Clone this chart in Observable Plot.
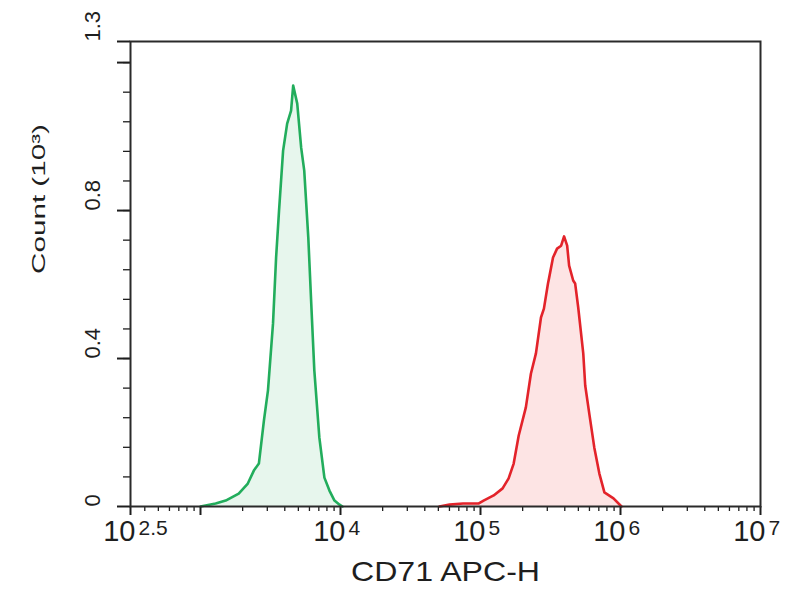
<!DOCTYPE html>
<html>
<head>
<meta charset="utf-8">
<script src="https://cdn.jsdelivr.net/npm/d3@7"></script>
<script src="https://cdn.jsdelivr.net/npm/@observablehq/plot@0.6"></script>
<style>
  html, body { margin: 0; padding: 0; background: #fff; }
  #chart { width: 804px; height: 600px; }
</style>
</head>
<body>
<div id="chart"></div>
<script>
// ---- Data ----
// log10 of CD71 APC-H intensity, and count (x10^3)
const greenLogX = [3.000, 3.108, 3.180, 3.273, 3.338, 3.381, 3.417, 3.453, 3.482, 3.518, 3.540, 3.561, 3.590, 3.619, 3.647, 3.662, 3.691, 3.719, 3.741, 3.770, 3.791, 3.813, 3.849, 3.885, 3.921, 3.957, 3.993, 4.014];
const greenCount = [0.000, 0.008, 0.016, 0.035, 0.062, 0.097, 0.116, 0.232, 0.314, 0.495, 0.673, 0.800, 0.962, 1.035, 1.070, 1.138, 1.089, 0.970, 0.908, 0.727, 0.549, 0.368, 0.186, 0.078, 0.043, 0.016, 0.005, 0.000];

const redLogX = [4.706, 4.779, 4.875, 4.985, 5.022, 5.094, 5.158, 5.201, 5.237, 5.273, 5.324, 5.360, 5.396, 5.432, 5.453, 5.482, 5.489, 5.518, 5.547, 5.576, 5.597, 5.619, 5.633, 5.662, 5.676, 5.698, 5.734, 5.748, 5.777, 5.813, 5.849, 5.885, 5.950, 6.007];
const redCount = [0.000, 0.005, 0.008, 0.008, 0.016, 0.030, 0.049, 0.076, 0.116, 0.192, 0.268, 0.359, 0.414, 0.511, 0.535, 0.603, 0.616, 0.673, 0.697, 0.705, 0.730, 0.705, 0.651, 0.611, 0.603, 0.538, 0.414, 0.327, 0.251, 0.159, 0.089, 0.038, 0.022, 0.000];

// axis ticks / labels
const xTickExponents = [2.5, 3, 4, 5, 6, 7];
const xTickLabelExponents = ["2.5", "4", "5", "6", "7"];
const xTickLabelValues = [10 ** 2.5, 1e4, 1e5, 1e6, 1e7];
const yMax = 1.257;
const yMajorTicks = [0, 0.4, 0.8, 1.2, yMax];
const yLabelValues = [0, 0.4, 0.8, yMax];
const yLabelTexts = ["0", "0.4", "0.8", "1.3"];
const yMinorStep = 0.08;
const xTitle = "CD71 APC-H";
const yTitle = "Count (10³)";

// ---- Build tables ----
const green = greenLogX.map((e, i) => ({x: 10 ** e, y: greenCount[i]}));
const red = redLogX.map((e, i) => ({x: 10 ** e, y: redCount[i]}));
const xMajor = xTickExponents.map(e => 10 ** e);
const xMinor = [];
for (let d = 2; d < 7; d++) for (let m = 2; m <= 9; m++) {
  const v = m * 10 ** d;
  if (v > 10 ** 2.5 && v < 1e7) xMinor.push(v);
}
const yMinor = [];
for (let v = yMinorStep; v < yMax; v += yMinorStep) yMinor.push(+v.toFixed(3));
const yLabels = yLabelValues.map((v, i) => ({v, t: yLabelTexts[i]}));
const xLabels = xTickLabelValues.map((v, i) => ({v, e: xTickLabelExponents[i]}));

const font = "'Liberation Sans', Arial, Helvetica, sans-serif";
const ink = "#1e1e1e";

const svg = Plot.plot({
  width: 804,
  height: 600,
  marginLeft: 130,
  marginRight: 44,
  marginTop: 41,
  marginBottom: 94,
  style: {fontFamily: font, background: "#fff", color: ink},
  x: {type: "log", domain: [10 ** 2.5, 1e7]},
  y: {domain: [0, yMax]},
  marks: [
    Plot.areaY(green, {x: "x", y: "y", fill: "#e7f6ed"}),
    Plot.areaY(red, {x: "x", y: "y", fill: "#fde4e4"}),
    Plot.lineY(green, {x: "x", y: "y", stroke: "#22ad5c", strokeWidth: 2.6, strokeLinejoin: "round"}),
    Plot.lineY(red, {x: "x", y: "y", stroke: "#e3232a", strokeWidth: 2.6, strokeLinejoin: "round"}),
    Plot.axisX({ticks: xMinor, tickSize: 5, tickFormat: () => "", stroke: ink, strokeWidth: 1.3, label: null}),
    Plot.axisX({ticks: xMajor, tickSize: 9, tickFormat: () => "", stroke: ink, strokeWidth: 2, label: null}),
    Plot.axisY({ticks: yMinor, tickSize: 7, tickFormat: () => "", stroke: ink, strokeWidth: 1.3, label: null}),
    Plot.axisY({ticks: yMajorTicks, tickSize: 13, tickFormat: () => "", stroke: ink, strokeWidth: 2, label: null}),
    Plot.frame({stroke: "#2a2a2a", strokeWidth: 2}),
    Plot.text(xLabels, {x: "v", text: () => "10", frameAnchor: "bottom", dy: 34, dx: 5, textAnchor: "end", fontSize: 29, fill: ink}),
    Plot.text(xLabels, {x: "v", text: "e", frameAnchor: "bottom", dy: 28, dx: 8, textAnchor: "start", fontSize: 21, fill: ink}),
    Plot.text([xTitle], {frameAnchor: "bottom", dy: 74, fontSize: 28, fill: ink}),
    Plot.text(yLabels, {y: "v", text: "t", frameAnchor: "left", dx: -38, rotate: -90, fontSize: 22, fill: ink}),
    Plot.text([yTitle], {frameAnchor: "left", dx: -92, rotate: -90, fontSize: 19, fill: ink})
  ]
});

d3.select(svg).selectAll("text").each(function () {
  const t = this.textContent;
  if (t === xTitle) d3.select(this).attr("textLength", 189).attr("lengthAdjust", "spacingAndGlyphs");
  if (t === yTitle) d3.select(this).attr("textLength", 150).attr("lengthAdjust", "spacingAndGlyphs");
});

document.getElementById("chart").appendChild(svg);
</script>
</body>
</html>
